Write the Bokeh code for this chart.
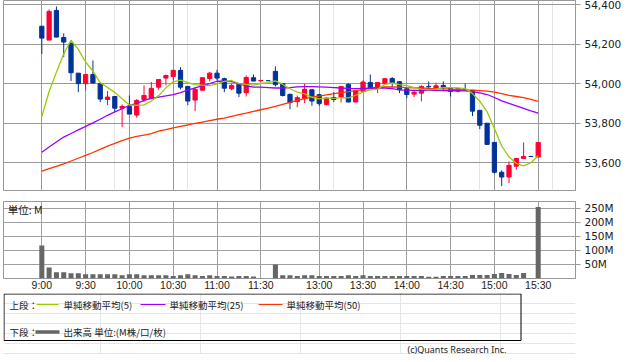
import pandas as pd
from bokeh.plotting import figure
from bokeh.layouts import column
from bokeh.models import Range1d, FixedTicker, ColumnDataSource, NumeralTickFormatter, Grid
from bokeh.core.properties import value
from bokeh.embed import file_html
from bokeh.resources import INLINE

# ---------------- data ----------------
tick_idx = [0, 6, 12, 18, 24, 30, 38, 44, 50, 56, 62, 68]
tick_labels = ["9:00", "9:30", "10:00", "10:30", "11:00", "11:30",
               "13:00", "13:30", "14:00", "14:30", "15:00", "15:30"]
price_ticks = [53600, 53800, 54000, 54200, 54400]
vol_ticks = [50, 100, 150, 200, 250]
vol_tick_labels = ["50M", "100M", "150M", "200M", "250M"]

opens = [54290, 54220, 54370, 54233, 54202, 54053, 54000, 54046, 54000, 53920,
         53935, 53876, 53885, 53841, 53920, 53925, 53982, 54028, 54036, 54067,
         53986, 53917, 53967, 54026, 54053, 54025, 53974, 53996, 53954, 54030,
         54014, 54015, 54062, 54000, 53946, 53909, 53925, 53969, 53944, 53895,
         53930, 53932, 53996, 53907, 53962, 54006, 53974, 54000, 54026, 54010,
         53974, 53947, 53952, 53986, 53976, 53991, 53977, 53962, 53971, 53966,
         53865, 53800, 53703, 53552, 53528, 53583, 53622, 53632, 53629]
highs = [54290, 54375, 54390, 54254, 54218, 54053, 54046, 54117, 54000, 53962,
         53935, 53895, 53940, 53922, 53991, 54008, 54021, 54046, 54070, 54083,
         53986, 53979, 54030, 54060, 54070, 54030, 54000, 53996, 54041, 54046,
         54016, 54015, 54087, 54000, 53949, 53940, 54000, 53969, 53949, 53932,
         53957, 53986, 54001, 53966, 54016, 54046, 54006, 54025, 54033, 54010,
         53974, 53969, 53992, 54011, 54005, 54011, 53977, 53976, 54000, 53966,
         53865, 53800, 53703, 53562, 53607, 53622, 53703, 53632, 53703]
lows = [54150, 54220, 54235, 54134, 54013, 53957, 53966, 54003, 53907, 53891,
        53856, 53780, 53846, 53828, 53907, 53920, 53969, 53991, 54016, 53971,
        53891, 53861, 53967, 54011, 54016, 53957, 53966, 53932, 53935, 54013,
        54014, 54015, 53986, 53935, 53871, 53881, 53902, 53888, 53888, 53890,
        53907, 53905, 53907, 53907, 53962, 53974, 53952, 54000, 53982, 53952,
        53927, 53932, 53910, 53966, 53969, 53966, 53935, 53956, 53968, 53836,
        53770, 53690, 53545, 53482, 53498, 53565, 53622, 53632, 53629]
closes = [54230, 54365, 54235, 54210, 54055, 54000, 54046, 54003, 53922, 53932,
          53876, 53885, 53846, 53915, 53940, 53976, 54021, 54041, 54067, 53982,
          53912, 53971, 54030, 54053, 54028, 53977, 53991, 53952, 54031, 54013,
          54016, 54015, 53995, 53940, 53904, 53929, 53971, 53912, 53899, 53927,
          53920, 53986, 53907, 53966, 54008, 53974, 54006, 54025, 54003, 53969,
          53945, 53957, 53986, 53984, 53989, 53981, 53961, 53976, 53968, 53861,
          53790, 53693, 53552, 53528, 53587, 53622, 53632, 53632, 53703]
volumes = [117.6, 39, 22, 22, 18.5, 18.5, 15, 15, 15, 15,
           15, 11.5, 15, 15, 11.5, 11.5, 11.5, 11.5, 9, 11.5,
           15, 11.5, 9, 11.5, 9, 9, 7, 9, 9, 7,
           2, 0, 49.6, 11.5, 11.5, 9, 11.5, 11.5, 9, 9,
           9, 9, 11.5, 9, 11.5, 9, 9, 9, 9, 9,
           9, 9, 9, 6, 6, 9, 9, 9, 9, 12.7,
           12.7, 12.7, 16, 19.6, 16, 12.7, 19.6, 2, 253.7]
# moving averages (first MA5 points and MA25/MA50 include the previous session)
ma5_head = [53834, 53960, 54058, 54151]
ma25 = [53653, 53680, 53705, 53730, 53748, 53766, 53784, 53802, 53820, 53840,
        53857, 53873, 53890, 53900, 53915, 53925, 53932, 53938, 53944, 53955,
        53967, 53979, 53990, 54000, 54012, 54012, 54010, 54000, 53988, 53982,
        53982, 53980, 53978, 53978, 53980, 53984, 53985, 53985, 53984, 53982,
        53980, 53978, 53976, 53975, 53975, 53978, 53978, 53977, 53975, 53968,
        53967, 53966, 53966, 53966, 53966, 53965, 53964, 53964, 53963, 53960,
        53953, 53945, 53930, 53913, 53900, 53888, 53875, 53862, 53851]
ma50 = [53558, 53570, 53582, 53595, 53609, 53623, 53637, 53652, 53668, 53684,
        53698, 53712, 53725, 53733, 53740, 53747, 53760, 53768, 53776, 53784,
        53791, 53799, 53806, 53813, 53820, 53826, 53835, 53843, 53851, 53860,
        53868, 53876, 53885, 53895, 53905, 53915, 53924, 53932, 53937, 53943,
        53950, 53955, 53960, 53965, 53970, 53976, 53980, 53983, 53984, 53982,
        53980, 53979, 53978, 53976, 53975, 53974, 53972, 53970, 53968, 53967,
        53965, 53962, 53957, 53949, 53941, 53935, 53929, 53920, 53910]

# ---------------- styles ----------------
RED = "#ff0033"
BLUE = "#003399"
GREEN = "#99cc00"
PURPLE = "#9900ff"
ORANGE = "#ff3300"
VOLC = "#666666"
GRIDC = "#999999"
TXT = "#222222"
CJK = "Noto Sans CJK JP"

BL, BR = 3, 55          # left / right borders (frame spans x 3..575)
W = 630

n = len(closes)
idx = list(range(n))
ma5 = ma5_head + pd.Series(closes).rolling(5).mean().iloc[4:].tolist()
src = ColumnDataSource(dict(
    x=idx, o=opens, h=highs, l=lows, c=closes,
    top=[max(o, c) for o, c in zip(opens, closes)],
    bottom=[min(o, c) for o, c in zip(opens, closes)],
    color=[RED if c > o else BLUE for o, c in zip(opens, closes)],
))

xr = Range1d(-5.25, 73.11)


def style_right_axis(ax, ticks, overrides=None, fmt=None):
    ax.ticker = FixedTicker(ticks=ticks)
    if fmt is not None:
        ax.formatter = fmt
    if overrides is not None:
        ax.major_label_overrides = overrides
    ax.axis_line_color = GRIDC
    ax.major_tick_line_color = GRIDC
    ax.major_tick_out = 5
    ax.major_tick_in = 0
    ax.minor_tick_line_color = None
    ax.major_label_standoff = 4
    ax.major_label_text_font = "DejaVu Sans"
    ax.major_label_text_font_size = "10.5px"
    ax.major_label_text_color = TXT


# ---------------- price panel ----------------
p = figure(width=W, height=200, x_range=xr, y_range=Range1d(53460, 54420),
           output_backend="svg", toolbar_location=None,
           x_axis_location=None, y_axis_location="right",
           min_border_left=BL, min_border_right=BR, min_border_top=0, min_border_bottom=10)
p.outline_line_color = GRIDC
p.ygrid.grid_line_color = GRIDC
p.add_layout(Grid(dimension=0, ticker=FixedTicker(ticks=tick_idx), grid_line_color=GRIDC))
style_right_axis(p.yaxis[0], price_ticks, fmt=NumeralTickFormatter(format="0,0"))

p.segment("x", "h", "x", "l", source=src, line_color="color", line_width=1)
p.vbar(x="x", width=0.58, top="top", bottom="bottom", source=src,
       fill_color="color", line_color="color", line_width=1)
p.line(idx, ma50, line_color=ORANGE, line_width=1.3)
p.line(idx, ma25, line_color=PURPLE, line_width=1.3)
p.line(idx, ma5, line_color=GREEN, line_width=1.3)

# ---------------- volume panel ----------------
v = figure(width=W, height=93, x_range=xr, y_range=Range1d(0, 273.4),
           output_backend="svg", toolbar_location=None,
           y_axis_location="right",
           min_border_left=BL, min_border_right=BR, min_border_top=1, min_border_bottom=13)
v.outline_line_color = GRIDC
v.grid.grid_line_color = "#a0a0a0"
v.xgrid.ticker = FixedTicker(ticks=tick_idx)
style_right_axis(v.yaxis[0], vol_ticks, overrides=dict(zip(vol_ticks, vol_tick_labels)))
xa = v.xaxis[0]
xa.ticker = FixedTicker(ticks=tick_idx)
xa.major_label_overrides = dict(zip(tick_idx, tick_labels))
xa.axis_line_color = None
xa.major_tick_line_color = None
xa.minor_tick_line_color = None
xa.major_tick_out = 0
xa.major_tick_in = 0
xa.major_label_standoff = 0
xa.major_label_text_font = "Liberation Sans"
xa.major_label_text_font_size = "10.5px"
xa.major_label_text_color = TXT

v.vbar(x=idx, top=volumes, width=0.69, fill_color=VOLC, line_color=None)
v.text(x=[-4.66], y=[244.3], text=["単位: M"], text_font=value(CJK),
       text_font_size="10.5px", text_baseline="middle", text_align="left",
       text_color=TXT)

# ---------------- legend / footer (x in page pixels) ----------------
LH = 61
lg = figure(width=W, height=LH, x_range=Range1d(BL, W - BR), y_range=Range1d(LH, 0),
            output_backend="svg", toolbar_location=None,
            x_axis_location=None, y_axis_location=None,
            min_border_left=BL, min_border_right=BR, min_border_top=0, min_border_bottom=0)
lg.outline_line_color = None
lg.quad(left=[3.5], right=[520.5], top=[0.5], bottom=[47], fill_color=None,
        line_color="black", line_width=1)


def ltext(x, y, s, font=CJK, size="9.5px", align="left"):
    lg.text(x=[x], y=[y], text=[s], text_font=value(font), text_font_size=size,
            text_baseline="middle", text_align=align, text_color=TXT)


ltext(9, 11, "上段：")
lg.line(x=[36, 58], y=[11, 11], line_color=GREEN, line_width=1)
ltext(63, 11, "単純移動平均(5)")
lg.line(x=[140, 165], y=[11, 11], line_color=PURPLE, line_width=1)
ltext(169, 11, "単純移動平均(25)")
lg.line(x=[258, 282], y=[11, 11], line_color=ORANGE, line_width=1)
ltext(286, 11, "単純移動平均(50)")
ltext(9, 38.5, "下段：")
lg.line(x=[35, 59], y=[38.5, 38.5], line_color=VOLC, line_width=3.5)
ltext(63, 38.5, "出来高 単位:(M株/口/枚)")
ltext(506, 55.5, "(c)Quants Research Inc.", font="Noto Sans", size="9px", align="right")

layout = column(p, v, lg, spacing=0)
open("out.html", "w").write(file_html(layout, INLINE))
